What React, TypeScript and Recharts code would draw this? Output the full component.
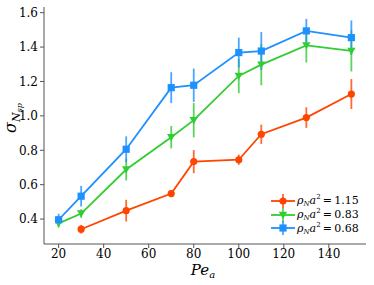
import React from 'react';
import { LineChart, Line, XAxis, YAxis, ErrorBar } from 'recharts';

const xRed = [30, 50, 70, 80, 100, 110, 130, 150];
const yRed = [0.341, 0.449, 0.548, 0.734, 0.745, 0.893, 0.99, 1.127];
const eRed = [0.025, 0.063, 0.02, 0.067, 0.03, 0.056, 0.06, 0.087];

const xGreen = [20, 30, 50, 70, 80, 100, 110, 130, 150];
const yGreen = [0.375, 0.432, 0.688, 0.876, 0.975, 1.232, 1.298, 1.41, 1.378];
const eGreen = [0.025, 0.025, 0.064, 0.065, 0.1, 0.1, 0.12, 0.1, 0.12];

const xBlue = [20, 30, 50, 70, 80, 100, 110, 130, 150];
const yBlue = [0.396, 0.533, 0.806, 1.164, 1.178, 1.368, 1.377, 1.494, 1.455];
const eBlue = [0.035, 0.06, 0.075, 0.09, 0.097, 0.087, 0.11, 0.07, 0.1];

const xTicks = [20, 40, 60, 80, 100, 120, 140];
const yTicks = [0.4, 0.6, 0.8, 1.0, 1.2, 1.4, 1.6];
const seriesLabels = ['1.15', '0.83', '0.68'];

const RED = '#ff4500';
const GREEN = '#32cd32';
const BLUE = '#1e90ff';
const FONT = "'DejaVu Serif', serif";

const build = (xs: number[], ys: number[], es: number[]) =>
  xs.map((x, i) => ({ x, y: ys[i], e: es[i] }));

const redData = build(xRed, yRed, eRed);
const greenData = build(xGreen, yGreen, eGreen);
const blueData = build(xBlue, yBlue, eBlue);

const Circle = (p: any) => <circle cx={p.cx} cy={p.cy} r={3.6} fill={RED} />;
const Square = (p: any) => (
  <rect x={p.cx - 3.6} y={p.cy - 3.6} width={7.2} height={7.2} fill={BLUE} />
);
const TriDown = (p: any) => (
  <polygon
    points={`${p.cx - 4.2},${p.cy - 3.2} ${p.cx + 4.2},${p.cy - 3.2} ${p.cx},${p.cy + 4}`}
    fill={GREEN}
  />
);

const YLabel = () => (
  <text
    transform="translate(16,118) rotate(-90)"
    textAnchor="middle"
    fontFamily={FONT}
    fill="#000"
  >
    <tspan fontSize={16} fontStyle="italic">σ</tspan>
    <tspan fontSize={11} fontStyle="italic" dy={4}>N</tspan>
    <tspan fontSize={8} fontStyle="italic" dy={2}>sp</tspan>
  </text>
);

const XLabel = () => (
  <text x={203} y={275} textAnchor="middle" fontFamily={FONT} fill="#000">
    <tspan fontSize={15} fontStyle="italic">Pe</tspan>
    <tspan fontSize={10} fontStyle="italic" dy={3}>a</tspan>
  </text>
);

const legendItems = [
  { c: RED, shape: 'circle' },
  { c: GREEN, shape: 'tri' },
  { c: BLUE, shape: 'square' },
];

const LegendIcon = ({ c, shape }: { c: string; shape: string }) => (
  <svg width={24} height={14} style={{ display: 'block' }}>
    <line x1={0} y1={7} x2={24} y2={7} stroke={c} strokeWidth={1.8} />
    <line x1={12} y1={0} x2={12} y2={14} stroke={c} strokeWidth={1.8} opacity={0.8} />
    {shape === 'circle' && <circle cx={12} cy={7} r={3.6} fill={c} />}
    {shape === 'square' && <rect x={8.4} y={3.4} width={7.2} height={7.2} fill={c} />}
    {shape === 'tri' && <polygon points="7.8,3.8 16.2,3.8 12,11" fill={c} />}
  </svg>
);

const tickStyle = { fontFamily: FONT, fontSize: 12, fill: '#000' };

export default function App() {
  return (
    <div style={{ position: 'absolute', left: 0, top: 0, width: 374, height: 285, background: '#fff', fontFamily: FONT }}>
      <LineChart
        width={374}
        height={285}
        margin={{ top: 7, right: 8, bottom: 0, left: 0 }}
      >
        <XAxis
          type="number"
          dataKey="x"
          domain={[13.5, 156.5]}
          ticks={xTicks}
          allowDataOverflow
          height={41}
          stroke="#555"
          tickLine={{ stroke: '#555' }}
          tickSize={4}
          tickMargin={1}
          tick={tickStyle}
          label={<XLabel />}
        />
        <XAxis
          xAxisId="top"
          orientation="top"
          type="number"
          dataKey="x"
          domain={[13.5, 156.5]}
          height={0}
          tick={false}
          tickLine={false}
          stroke="#555"
        />
        <YAxis
          type="number"
          domain={[0.255, 1.633]}
          ticks={yTicks}
          allowDataOverflow
          width={44}
          stroke="#555"
          tickSize={4}
          tickFormatter={(v: number) => v.toFixed(1)}
          tick={tickStyle}
          label={<YLabel />}
        />
        <YAxis
          yAxisId="right"
          orientation="right"
          type="number"
          domain={[0.255, 1.633]}
          width={0}
          tick={false}
          tickLine={false}
          stroke="#555"
        />
        <Line
          data={redData}
          dataKey="y"
          stroke={RED}
          strokeWidth={1.8}
          dot={<Circle />}
          activeDot={false}
          isAnimationActive={false}
        >
          <ErrorBar dataKey="e" width={0} stroke={RED} strokeWidth={1.8} opacity={0.8} isAnimationActive={false} />
        </Line>
        <Line
          data={greenData}
          dataKey="y"
          stroke={GREEN}
          strokeWidth={1.8}
          dot={<TriDown />}
          activeDot={false}
          isAnimationActive={false}
        >
          <ErrorBar dataKey="e" width={0} stroke={GREEN} strokeWidth={1.8} opacity={0.8} isAnimationActive={false} />
        </Line>
        <Line
          data={blueData}
          dataKey="y"
          stroke={BLUE}
          strokeWidth={1.8}
          dot={<Square />}
          activeDot={false}
          isAnimationActive={false}
        >
          <ErrorBar dataKey="e" width={0} stroke={BLUE} strokeWidth={1.8} opacity={0.8} isAnimationActive={false} />
        </Line>
      </LineChart>
      <div
        style={{
          position: 'absolute',
          left: 271,
          top: 194,
          fontFamily: FONT,
          fontSize: 11,
          lineHeight: '14px',
        }}
      >
        {legendItems.map((it, i) => (
          <div key={i} style={{ display: 'flex', alignItems: 'center', height: 13.7 }}>
            <LegendIcon c={it.c} shape={it.shape} />
            <span style={{ marginLeft: 2, whiteSpace: 'nowrap' }}>
              <i>ρ</i>
              <sub style={{ fontSize: 7, fontStyle: 'italic', verticalAlign: '-2px' }}>N</sub>
              <i>a</i>
              <sup style={{ fontSize: 7, verticalAlign: '5px' }}>2</sup>
              <span>{'\u2009=\u2009' + seriesLabels[i]}</span>
            </span>
          </div>
        ))}
      </div>
    </div>
  );
}
